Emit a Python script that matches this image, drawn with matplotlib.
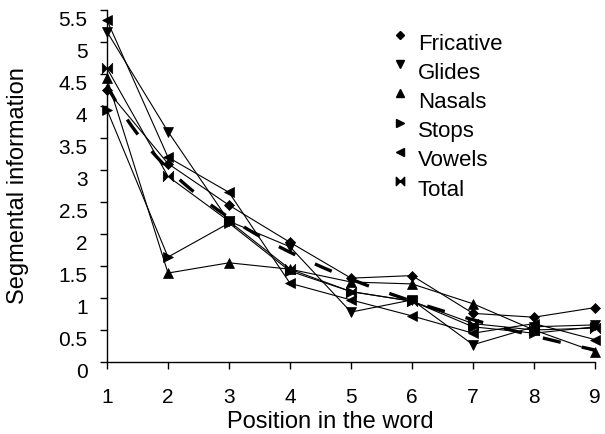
import numpy as np
import matplotlib
matplotlib.use("Agg")
import matplotlib.pyplot as plt
from matplotlib.path import Path
from matplotlib.transforms import ScaledTranslation

plt.rcParams['font.family'] = ['Liberation Sans', 'DejaVu Sans']

positions = [1, 2, 3, 4, 5, 6, 7, 8, 9]
fricative = [4.25, 3.10, 2.45, 1.87, 1.31, 1.35, 0.76, 0.70, 0.85]
glides    = [5.16, 3.60, 2.20, 1.80, 0.78, 0.97, 0.27, 0.55, 0.58]
nasals    = [4.43, 1.39, 1.55, 1.45, 1.25, 1.22, 0.91, 0.50, 0.16]
stops     = [3.94, 1.64, 2.17, 1.42, 1.10, 0.95, 0.55, 0.45, 0.55]
vowels    = [5.34, 3.20, 2.65, 1.23, 0.97, 0.72, 0.45, 0.60, 0.35]
total     = [4.59, 2.90, 2.20, 1.45, 1.10, 0.95, 0.60, 0.50, 0.53]
series_names = ["Fricative", "Glides", "Nasals", "Stops", "Vowels", "Total"]
yticks = [0, 0.5, 1, 1.5, 2, 2.5, 3, 3.5, 4, 4.5, 5, 5.5]
ytick_labels = ["0", "0.5", "1", "1.5", "2", "2.5", "3", "3.5", "4", "4.5", "5", "5.5"]

bowtie = Path([(-1, -1), (-1, 1), (0, 0), (-1, -1),
               (1, -1), (1, 1), (0, 0), (1, -1)],
              [Path.MOVETO, Path.LINETO, Path.LINETO, Path.CLOSEPOLY,
               Path.MOVETO, Path.LINETO, Path.LINETO, Path.CLOSEPOLY])

markers = ['D', 'v', '^', '>', '<', bowtie]
msizes = [5.5, 7.5, 7.5, 7.5, 7.5, 7.5]
data = [fricative, glides, nasals, stops, vowels, total]

fig = plt.figure(figsize=(6.05, 4.34), dpi=100)
ax = fig.add_axes([107/605, 72/434, 488/605, 352/434])

for vals, m, ms in zip(data, markers, msizes):
    ax.plot(positions, vals, color='black', lw=0.8, marker=m, ms=ms,
            markerfacecolor='black', markeredgecolor='black', markeredgewidth=0.5,
            clip_on=False, zorder=3)

# logarithmic trendline of Total
x = np.array(positions, dtype=float)
b, a = np.polyfit(np.log(x), np.array(total), 1)
xs = np.linspace(1, 9, 200)
ax.plot(xs, a + b*np.log(xs), color='black', lw=2.4, dashes=(5.5, 6.5),
        solid_capstyle='butt', dash_capstyle='butt', zorder=4, clip_on=False)

ax.set_xlim(1, 9)
ax.set_ylim(0, 5.5)
ax.set_xticks(positions)
ax.set_xticklabels([str(p) for p in positions])
ax.set_yticks(yticks)
ax.set_yticklabels(ytick_labels)
for s in ['top', 'right']:
    ax.spines[s].set_visible(False)
for s in ['left', 'bottom']:
    ax.spines[s].set_linewidth(1.0)
ax.tick_params(axis='both', direction='out', length=5, width=1.0, labelsize=15)
ax.tick_params(axis='x', pad=14)
ax.tick_params(axis='y', pad=9)
off = ScaledTranslation(0, -0.09, fig.dpi_scale_trans)
for lab in ax.get_yticklabels():
    lab.set_transform(lab.get_transform() + off)

ax.set_xlabel("Position in the word", fontsize=17)
ax.xaxis.set_label_coords(0.457, -0.140)
ax.set_ylabel("Segmental information", fontsize=17)
ax.yaxis.set_label_coords(-0.160, 0.5)

# legend (markers only)
leg_ms = [4.5, 6, 6, 6, 6, 6]
for i, (name, m, ms) in enumerate(zip(series_names, markers, leg_ms)):
    ty = 44 + 29.2*i
    ax.plot([(400-107)/488], [(362-ty+9)/352], marker=m, ms=ms, color='black',
            transform=ax.transAxes, clip_on=False, ls='none')
    ax.text((418-107)/488, (362-ty)/352, name, transform=ax.transAxes,
            fontsize=16, va='center', ha='left')

fig.savefig("out.png", dpi=100)
